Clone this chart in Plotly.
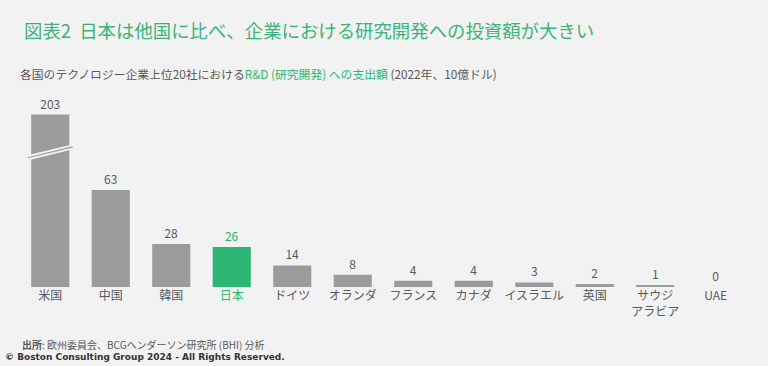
import plotly.graph_objects as go

countries = ["米国", "中国", "韓国", "日本", "ドイツ", "オランダ", "フランス", "カナダ",
             "イスラエル", "英国", "サウジ<br>アラビア", "UAE"]
rd_spend = [203, 63, 28, 26, 14, 8, 4, 4, 3, 2, 1, 0]
highlight = "日本"
axis_break_cap = 112  # US bar drawn truncated (broken axis)

GRAY = "#9b9b9b"
GREEN = "#2bb673"
TITLE_GREEN = "#3cb479"
TEXT = "#595959"
BG = "#f2f2f2"
FONT = "Noto Sans CJK JP"

shown = [min(v, axis_break_cap) for v in rd_spend]
colors = [GREEN if c == highlight else GRAY for c in countries]
text_colors = [GREEN if c == highlight else TEXT for c in countries]
ticktext = [f'<span style="color:{GREEN}">{c}</span>' if c == highlight else c for c in countries]

fig = go.Figure()
fig.add_bar(
    x=list(range(len(countries))), y=shown,
    marker=dict(color=colors, line=dict(width=0)),
    text=[str(v) for v in rd_spend], textposition="outside",
    textfont=dict(size=12, color=text_colors, family=FONT),
    cliponaxis=False, hoverinfo="skip",
)

# axis break marks on the US bar
for w, col in [(5, BG), (1.2, GRAY)]:
    fig.add_shape(type="line", xref="x", yref="y",
                  x0=-0.37, x1=0.37, y0=84, y1=91,
                  line=dict(color=col, width=w), layer="above")

fig.update_layout(
    width=768, height=366,
    paper_bgcolor=BG, plot_bgcolor=BG,
    margin=dict(l=20, r=22, t=100, b=79),
    bargap=0.37, showlegend=False,
    font=dict(family=FONT, color=TEXT),
    xaxis=dict(tickmode="array", tickvals=list(range(len(countries))), ticktext=ticktext,
               range=[-0.5, len(countries) - 0.5], showgrid=False, zeroline=False,
               showline=False, ticks="", tickfont=dict(size=12, color=TEXT, family=FONT)),
    yaxis=dict(range=[0, 121.5], visible=False, showgrid=False, zeroline=False),
)

fig.add_annotation(xref="paper", yref="paper", x=0, y=1, xanchor="left", yanchor="middle",
                   text="図表2  日本は他国に比べ、企業における研究開発への投資額が大きい",
                   xshift=2, yshift=70, showarrow=False,
                   font=dict(size=18.4, color=TITLE_GREEN, family=FONT))
fig.add_annotation(xref="paper", yref="paper", x=0, y=1, xanchor="left", yanchor="middle",
                   text=f'各国のテクノロジー企業上位20社における<span style="color:{GREEN}">R&amp;D (研究開発) への支出額</span> (2022年、10億ドル)',
                   xshift=-2, yshift=27, showarrow=False,
                   font=dict(size=11.8, color=TEXT, family=FONT))
fig.add_annotation(xref="paper", yref="paper", x=0, y=0, xanchor="left", yanchor="middle",
                   text="<b>出所</b>: 欧州委員会、BCGヘンダーソン研究所 (BHI) 分析",
                   xshift=0, yshift=-57, showarrow=False,
                   font=dict(size=10, color=TEXT, family=FONT))
fig.add_annotation(xref="paper", yref="paper", x=0, y=0, xanchor="left", yanchor="middle",
                   text="<b>© Boston Consulting Group 2024 - All Rights Reserved.</b>",
                   xshift=-17, yshift=-70, showarrow=False,
                   font=dict(size=9, color="#333333", family="DejaVu Sans"))

fig.write_html("out.html", post_script="document.body.style.margin='0';",
               config={"displayModeBar": False})
